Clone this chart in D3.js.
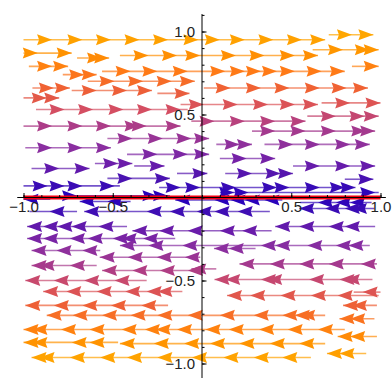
<!DOCTYPE html>
<html>
<head>
<meta charset="utf-8">
<script src="https://cdn.jsdelivr.net/npm/d3@7"></script>
<style>
  html, body { margin: 0; padding: 0; background: #fff; }
  .tick text { font-family: "Liberation Sans", Arial, sans-serif; font-size: 15px; fill: #222; }
</style>
</head>
<body>
<div id="chart"></div>
<script>
// streamlines of the field (y, 0): y level, start x, end x, arrow tip x positions
var upperStreams = [
    { y: 0.98, from: 0.71, to: 0.96, tips: [0.84, 0.96] },
    { y: 0.95, from: -1.0, to: 0.69, tips: [-0.84, -0.67, -0.51, -0.35, -0.19, -0.02, 0.10, 0.24, 0.40, 0.56, 0.69] },
    { y: 0.89, from: 0.62, to: 0.99, tips: [0.79, 0.94, 0.99] },
    { y: 0.87, from: -1.0, to: -0.73, tips: [-0.92, -0.73] },
    { y: 0.855, from: -0.46, to: 0.65, tips: [-0.30, -0.14, -0.01, 0.19, 0.35, 0.52, 0.65] },
    { y: 0.84, from: -0.70, to: -0.52, tips: [-0.56, -0.52] },
    { y: 0.79, from: -0.97, to: -0.75, tips: [-0.84, -0.75] },
    { y: 0.79, from: 0.84, to: 0.99, tips: [0.99] },
    { y: 0.76, from: -0.56, to: 0.80, tips: [-0.40, -0.25, -0.08, 0.13, 0.24, 0.33, 0.42, 0.52, 0.67, 0.80] },
    { y: 0.74, from: -0.78, to: -0.59, tips: [-0.66, -0.59] },
    { y: 0.70, from: -0.64, to: -0.04, tips: [-0.49, -0.33, -0.17, -0.04] },
    { y: 0.66, from: -0.95, to: -0.74, tips: [-0.83, -0.74] },
    { y: 0.66, from: 0.01, to: 0.93, tips: [0.16, 0.33, 0.49, 0.66, 0.81, 0.93] },
    { y: 0.645, from: -0.73, to: -0.28, tips: [-0.59, -0.42, -0.28] },
    { y: 0.627, from: -0.25, to: -0.07, tips: [-0.07] },
    { y: 0.60, from: -1.0, to: -0.80, tips: [-0.87, -0.80] },
    { y: 0.57, from: 0.67, to: 1.0, tips: [0.83, 1.0] },
    { y: 0.56, from: -0.12, to: 0.65, tips: [0.01, 0.20, 0.37, 0.52, 0.65] },
    { y: 0.53, from: -0.93, to: -0.08, tips: [-0.77, -0.61, -0.44, -0.28, -0.12] },
    { y: 0.49, from: 0.59, to: 0.99, tips: [0.75, 0.91, 0.99] },
    { y: 0.46, from: -0.06, to: 0.58, tips: [0.07, 0.24, 0.41, 0.58] },
    { y: 0.43, from: -1.0, to: -0.12, tips: [-0.84, -0.67, -0.51, -0.35, -0.31, -0.12] },
    { y: 0.40, from: 0.28, to: 0.97, tips: [0.41, 0.58, 0.75, 0.92, 0.97] },
    { y: 0.355, from: -0.53, to: 0.04, tips: [-0.39, -0.22, -0.06, 0.04] },
    { y: 0.32, from: 0.08, to: 0.28, tips: [0.21, 0.28] },
    { y: 0.32, from: 0.35, to: 0.94, tips: [0.51, 0.66, 0.83, 0.94] },
    { y: 0.30, from: -0.99, to: -0.51, tips: [-0.84, -0.67, -0.51] },
    { y: 0.26, from: -0.42, to: 0.04, tips: [-0.25, -0.08, 0.04] },
    { y: 0.235, from: 0.10, to: 0.41, tips: [0.25, 0.41] },
    { y: 0.205, from: -0.60, to: -0.39, tips: [-0.47, -0.39] },
    { y: 0.19, from: -0.38, to: -0.21, tips: [-0.21] },
    { y: 0.19, from: 0.51, to: 0.97, tips: [0.66, 0.83, 0.97] },
    { y: 0.175, from: -0.955, to: -0.63, tips: [-0.80, -0.63] },
    { y: 0.145, from: -0.14, to: 0.03, tips: [0.03] },
    { y: 0.145, from: 0.13, to: 0.51, tips: [0.28, 0.44, 0.51] },
    { y: 0.115, from: -0.53, to: -0.18, tips: [-0.39, -0.18] },
    { y: 0.11, from: 0.80, to: 0.96, tips: [0.96] },
    { y: 0.07, from: -1.0, to: -0.46, tips: [-0.865, -0.77, -0.67, -0.49] },
    { y: 0.06, from: -0.24, to: 0.86, tips: [-0.12, -0.01, 0.19, 0.42, 0.49, 0.66, 0.80, 0.86] },
    { y: 0.03, from: 0.10, to: 0.99, tips: [0.18, 0.26, 0.97] },
    { y: 0.01, from: -0.75, to: -0.18, tips: [-0.70, -0.25, -0.19] }
];

var lowerStreams = [
    { y: -0.01, from: -1.0, to: -0.85, tips: [-1.0] },
    { y: -0.015, from: -0.15, to: 0.45, tips: [-0.15, 0.07, 0.16, 0.24, 0.35] },
    { y: -0.024, from: -0.685, to: -0.40, tips: [-0.685, -0.53] },
    { y: -0.03, from: 0.55, to: 0.95, tips: [0.65, 0.75, 0.83] },
    { y: -0.066, from: 0.545, to: 0.966, tips: [0.545, 0.69, 0.80, 0.84] },
    { y: -0.084, from: -0.966, to: -0.70, tips: [-0.854] },
    { y: -0.084, from: -0.66, to: 0.38, tips: [-0.66, -0.31, -0.18, -0.03, 0.07, 0.20] },
    { y: -0.175, from: -0.98, to: -0.42, tips: [-0.98, -0.89, -0.81, -0.73, -0.58] },
    { y: -0.175, from: 0.41, to: 0.97, tips: [0.41, 0.545, 0.71, 0.80] },
    { y: -0.20, from: -0.39, to: 0.39, tips: [-0.39, -0.24, -0.08, 0.10, 0.225] },
    { y: -0.247, from: -0.98, to: -0.15, tips: [-0.98, -0.89, -0.74, -0.64, -0.50, -0.45, -0.33] },
    { y: -0.289, from: -0.46, to: 0.94, tips: [-0.46, -0.30, -0.11, 0.33, 0.41, 0.59, 0.75, 0.82] },
    { y: -0.307, from: 0.067, to: 0.30, tips: [0.067, 0.15] },
    { y: -0.319, from: -0.955, to: -0.57, tips: [-0.955, -0.815, -0.67] },
    { y: -0.36, from: -0.573, to: -0.01, tips: [-0.573, -0.416, -0.253, -0.096] },
    { y: -0.40, from: 0.21, to: 0.98, tips: [0.21, 0.38, 0.545, 0.71, 0.89] },
    { y: -0.41, from: -0.955, to: -0.59, tips: [-0.955, -0.91, -0.74] },
    { y: -0.43, from: -0.06, to: 0.08, tips: [-0.06] },
    { y: -0.44, from: -0.56, to: -0.01, tips: [-0.56, -0.39, -0.236, -0.079] },
    { y: -0.494, from: 0.07, to: 0.955, tips: [0.07, 0.13, 0.33, 0.365, 0.60, 0.77, 0.80] },
    { y: -0.50, from: -0.99, to: -0.31, tips: [-0.99, -0.83, -0.66, -0.49] },
    { y: -0.566, from: -0.89, to: -0.11, tips: [-0.89, -0.76, -0.59, -0.43, -0.31, -0.25] },
    { y: -0.57, from: 0.85, to: 1.0, tips: [0.90] },
    { y: -0.59, from: 0.14, to: 0.99, tips: [0.14, 0.27, 0.44, 0.61, 0.76] },
    { y: -0.65, from: -0.99, to: -0.19, tips: [-0.99, -0.83, -0.67, -0.51, -0.34] },
    { y: -0.65, from: 0.79, to: 0.98, tips: [0.79, 0.84] },
    { y: -0.71, from: -0.87, to: 0.69, tips: [-0.87, -0.725, -0.56, -0.40, -0.25, -0.08, 0.10, 0.29, 0.45, 0.52, 0.55] },
    { y: -0.73, from: 0.77, to: 0.966, tips: [0.77, 0.83] },
    { y: -0.795, from: -1.0, to: 0.80, tips: [-1.0, -0.95, -0.79, -0.63, -0.45, -0.32, -0.26, -0.14, 0.02, 0.15, 0.32, 0.48, 0.65] },
    { y: -0.837, from: 0.76, to: 0.98, tips: [0.76, 0.83] },
    { y: -0.873, from: -1.0, to: -0.47, tips: [-1.0, -0.95, -0.73, -0.63] },
    { y: -0.88, from: -0.46, to: 0.69, tips: [-0.46, -0.27, -0.10, 0.045, 0.21, 0.38, 0.545] },
    { y: -0.94, from: 0.70, to: 0.92, tips: [0.70, 0.77] },
    { y: -0.964, from: -0.955, to: 0.61, tips: [-0.955, -0.91, -0.74, -0.57, -0.42, -0.25, -0.056, 0.12, 0.29, 0.45] }
];

var xTickValues = [-1, -0.5, 0.5, 1];
var yTickValues = [-1, -0.5, 0.5, 1];

// colour by speed |y|
var speedStops = [0, 0.1, 0.2, 0.3, 0.43, 0.53, 0.65, 0.76, 0.87, 1.0];
var speedColors = ["#2400bc", "#4410b2", "#6a1caa", "#8a2ea0", "#ac3c88", "#d44e62", "#ee6036", "#ff7a16", "#ff9200", "#ffaa00"];

var width = 392, height = 378;

var x = d3.scaleLinear().domain([-1, 1]).range([23.5, 380.5]);
var y = d3.scaleLinear().domain([-1.1, 1.1]).range([380.1, 14.9]);
var color = d3.scaleLinear().domain(speedStops).range(speedColors);

var svg = d3.select("#chart").append("svg")
    .attr("width", width)
    .attr("height", height);

var streams = upperStreams.map(function (d) { return Object.assign({ dir: 1 }, d); })
    .concat(lowerStreams.map(function (d) { return Object.assign({ dir: -1 }, d); }));

var g = svg.selectAll("g.stream")
    .data(streams)
    .enter().append("g")
    .attr("class", "stream");

g.append("line")
    .attr("x1", function (d) { return x(d.from); })
    .attr("x2", function (d) { return x(d.to); })
    .attr("y1", function (d) { return y(d.y); })
    .attr("y2", function (d) { return y(d.y); })
    .attr("stroke", function (d) { return color(Math.abs(d.y)); })
    .attr("stroke-opacity", 0.7)
    .attr("stroke-width", 1.6);

g.selectAll("path")
    .data(function (d) { return d.tips.map(function (t) { return { x: t, y: d.y, dir: d.dir }; }); })
    .enter().append("path")
    .attr("transform", function (d) { return "translate(" + x(d.x) + "," + y(d.y) + ") scale(" + d.dir + ",1)"; })
    .attr("d", "M0,0L-15,-5.5L-13,0L-15,5.5Z")
    .attr("fill", function (d) { return color(Math.abs(d.y)); });

// red nullcline along y = 0
svg.append("line")
    .attr("x1", x(-1)).attr("x2", x(1))
    .attr("y1", y(0)).attr("y2", y(0))
    .attr("stroke", "#f00010")
    .attr("stroke-width", 4);

// axes through the origin
var xMinor = d3.range(-10, 11).map(function (i) { return i / 10; });
var yMinor = d3.range(-11, 12).map(function (i) { return i / 10; });

var xAxisG = svg.append("g").attr("transform", "translate(0," + y(0) + ")");
xAxisG.append("line")
    .attr("x1", x(-1.035)).attr("x2", x(1.03))
    .attr("stroke", "#000").attr("stroke-width", 1);
xAxisG.append("g")
    .call(d3.axisBottom(x).tickValues(xMinor).tickSize(-2.5).tickFormat(""))
    .call(function (s) { s.select(".domain").remove(); });
xAxisG.append("g")
    .call(d3.axisBottom(x).tickValues(xTickValues).tickSize(-4.5).tickPadding(4).tickFormat(d3.format(".1f")))
    .call(function (s) { s.select(".domain").remove(); s.selectAll("text").attr("font-size", null).attr("font-family", null); });

var yAxisG = svg.append("g").attr("transform", "translate(" + x(0) + ",0)");
yAxisG.append("line")
    .attr("y1", y(1.105)).attr("y2", y(-1.1))
    .attr("stroke", "#000").attr("stroke-width", 1);
yAxisG.append("g")
    .call(d3.axisLeft(y).tickValues(yMinor).tickSize(-2.5).tickFormat(""))
    .call(function (s) { s.select(".domain").remove(); });
yAxisG.append("g")
    .call(d3.axisLeft(y).tickValues(yTickValues).tickSize(-4.5).tickPadding(7).tickFormat(d3.format(".1f")))
    .call(function (s) { s.select(".domain").remove(); s.selectAll("text").attr("font-size", null).attr("font-family", null); });

svg.selectAll(".tick line").attr("stroke", "#000");
</script>
</body>
</html>
